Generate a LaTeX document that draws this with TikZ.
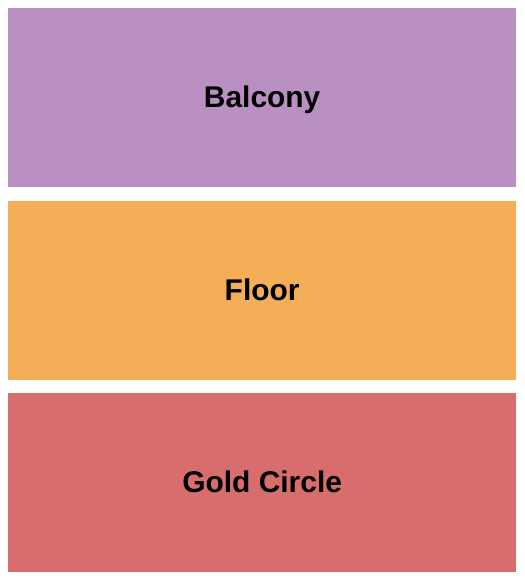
\documentclass[tikz,border=0pt]{standalone}
\usepackage{fontspec}
\setmainfont{Liberation Sans}
\usepackage{tikz}
\usetikzlibrary{positioning}

\definecolor{balconycol}{HTML}{BA90C2}
\definecolor{floorcol}{HTML}{F3AE57}
\definecolor{goldcol}{HTML}{D76E6D}

\begin{document}
\begin{tikzpicture}
    % Styles
    \tikzstyle{section} = [rectangle, inner sep=0pt, minimum width=509pt, minimum height=179pt, text height=21pt, text depth=0pt, font=\fontsize{30}{36}\selectfont\bfseries]

    % Sections - top to bottom
    \node [section, fill=balconycol] (balcony) {Balcony};
    \node [section, fill=floorcol, below=14pt of balcony] (floor) {Floor};
    \node [section, fill=goldcol, below=13pt of floor] (gold) {Gold Circle};

    % Margins
    \useasboundingbox ([xshift=-8pt, yshift=8pt]balcony.north west) rectangle ([xshift=8pt, yshift=-8pt]gold.south east);
\end{tikzpicture}
\end{document}
